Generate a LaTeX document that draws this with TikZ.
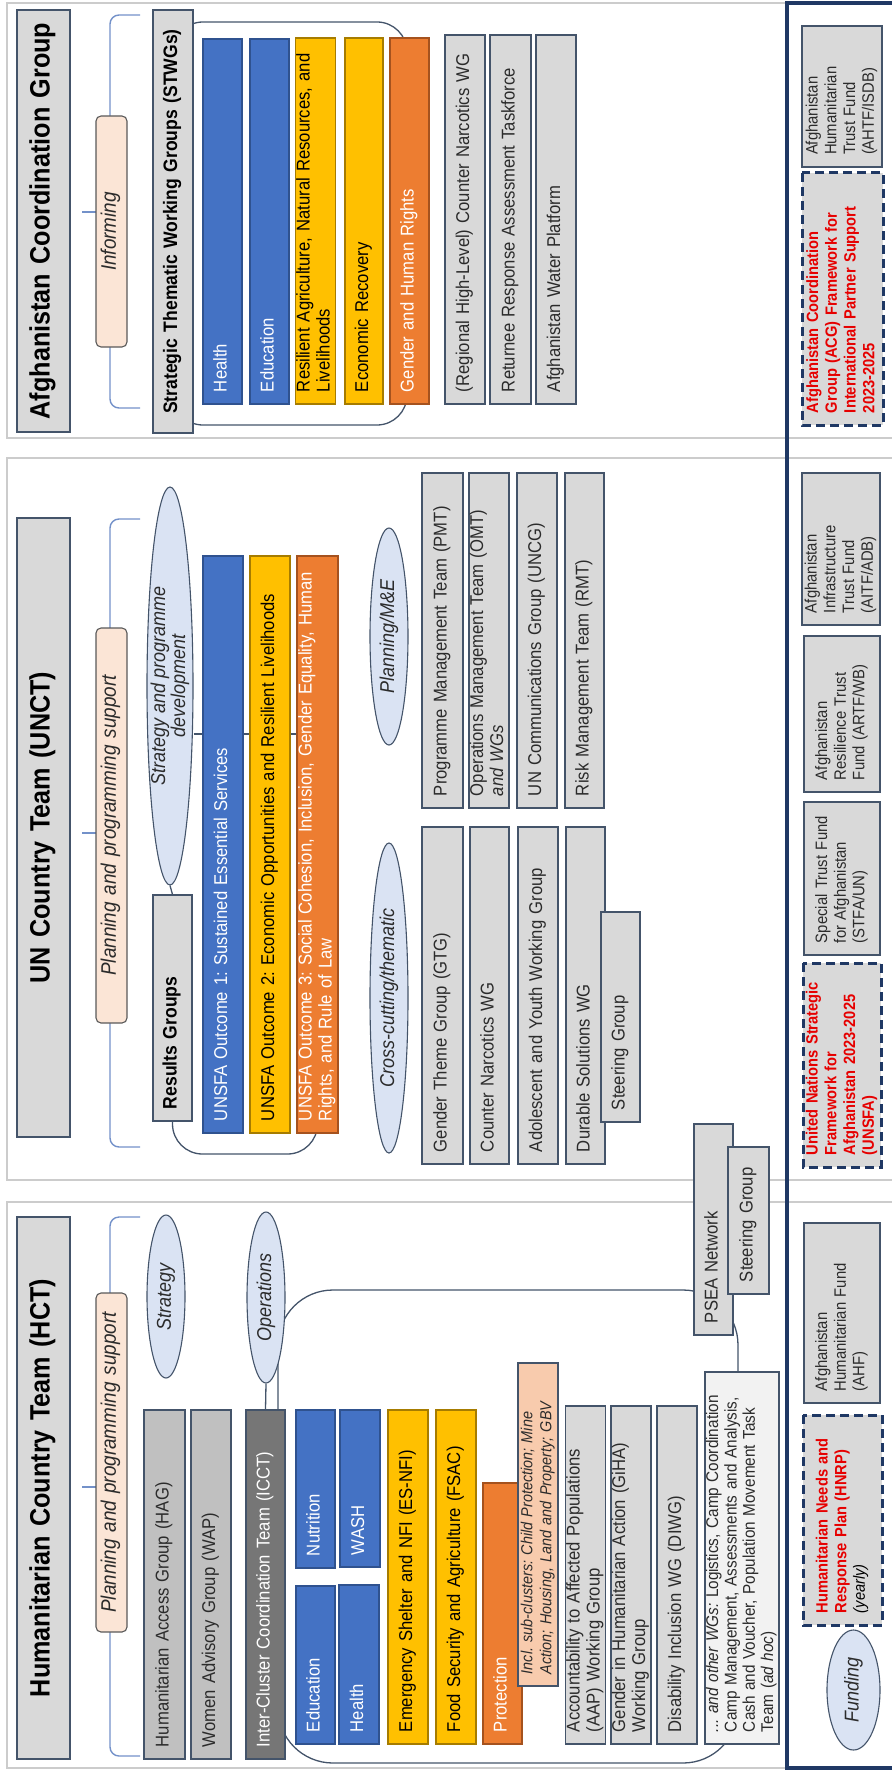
\documentclass[tikz,border=0pt]{standalone}
\usepackage{fontspec}
\setmainfont{Liberation Sans}[FakeStretch=0.9]
\usetikzlibrary{shapes.geometric}
\pgfdeclarelayer{bg}
\pgfsetlayers{bg,main}
\frenchspacing
\definecolor{gfill}{HTML}{D9D9D9}
\definecolor{gdark}{HTML}{C0C0C0}
\definecolor{icct}{HTML}{767676}
\definecolor{slate}{HTML}{44546A}
\definecolor{dgray}{HTML}{595959}
\definecolor{bfill}{HTML}{4472C4}
\definecolor{bline}{HTML}{2F528F}
\definecolor{yfill}{HTML}{FFC000}
\definecolor{yline}{HTML}{A67C00}
\definecolor{ofill}{HTML}{ED7D31}
\definecolor{oline}{HTML}{A5521E}
\definecolor{peach}{HTML}{FBE5D6}
\definecolor{peachb}{HTML}{F8CBAD}
\definecolor{efill}{HTML}{DAE3F3}
\definecolor{navy}{HTML}{1F3864}
\definecolor{panel}{HTML}{CCCCCC}
\definecolor{bracec}{HTML}{7391C9}
\definecolor{redtxt}{HTML}{E60000}
\definecolor{txt}{HTML}{2B2B2B}
\definecolor{lightf}{HTML}{F2F2F2}
\newcommand\fsz[2]{\fontsize{#1}{#2}\selectfont}
\newcommand\pb[7]{%
  \pgfmathsetmacro\pbw{#6-#4}%
  \pgfmathsetmacro\pbh{#5-#3}%
  \pgfmathsetmacro\pbt{#6-#4-24}%
  \pgfmathsetmacro\pbx{(#3+#5)/2}%
  \pgfmathsetmacro\pby{(#4+#6)/2}%
  \node[#2,rotate=90,minimum width=\pbw pt,minimum height=\pbh pt,text width=\pbt pt] (#1) at (\pbx,\pby) {\frenchspacing\begin{tabular}{@{}l@{}}#7\end{tabular}};}
\newcommand\pe[6]{%
  \pgfmathsetmacro\pbw{#5-#3}%
  \pgfmathsetmacro\pbh{#4-#2}%
  \pgfmathsetmacro\pbx{(#2+#4)/2}%
  \pgfmathsetmacro\pby{(#3+#5)/2}%
  \node[ell,rotate=90,minimum width=\pbw pt,minimum height=\pbh pt] (#1) at (\pbx,\pby) {#6};}
\tikzset{
  bx/.style={rectangle, draw=slate, line width=1.1pt, inner xsep=12pt, inner ysep=0pt, align=left, text=txt, font=\fsz{18.5}{20}},
  gry/.style={bx, fill=gfill},
  hagb/.style={bx, fill=gdark},
  blu/.style={bx, fill=bfill, draw=bline, text=white},
  yel/.style={bx, fill=yfill, draw=yline, text=black},
  org/.style={bx, fill=ofill, draw=oline, text=white},
  icb/.style={bx, fill=icct, draw=slate, text=white},
  sub/.style={bx, fill=peachb, draw=slate, font=\itshape\fsz{16}{19}},
  lgt/.style={bx, fill=lightf, draw=slate, font=\fsz{17}{18.3}},
  ttl/.style={bx, fill=gfill, align=center, text=black, font=\bfseries\fsz{28}{30}},
  bld/.style={bx, fill=gfill, text=black, font=\bfseries\fsz{19.5}{21}},
  bldc/.style={bld, align=center},
  plan/.style={bx, fill=peach, draw=dgray, rounded corners=5pt, align=center, font=\itshape\fsz{21}{22}},
  fnd/.style={bx, fill=gfill, font=\fsz{16.5}{18.7}},
  dsh/.style={bx, fill=gfill, draw=navy, line width=3pt, dash pattern=on 9pt off 5pt, text=redtxt, font=\bfseries\fsz{16.3}{18.7}},
  ell/.style={ellipse, draw=slate, line width=1.1pt, fill=efill, inner sep=-4pt, align=center, text=txt, font=\itshape\fsz{20}{20}},
  brc/.style={draw=bracec, line width=1.4pt},
  con/.style={draw=slate, line width=1.3pt},
  pnl/.style={draw=panel, line width=1.8pt},
}
\begin{document}
\begin{tikzpicture}[x=1pt,y=-1pt]
\useasboundingbox (0,0) rectangle (891,1771);
% ---------------- ACG ----------------
\pb{acgT}{ttl}{17}{10}{70}{432}{Afghanistan Coordination Group}
\pb{acgP}{plan}{96}{116}{127}{347}{Informing}
\pb{stwg}{bldc}{153}{10}{193}{433}{Strategic Thematic Working Groups (STWGs)}
\pb{aH}{blu}{203}{39}{242}{404}{Health}
\pb{aE}{blu}{250}{39}{289}{404}{Education}
\pb{aR}{yel}{296}{38}{335}{404}{Resilient Agriculture, Natural Resources, and\\Livelihoods}
\pb{aEc}{yel}{345}{38}{383}{404}{Economic Recovery}
\pb{aG}{org}{390}{38}{429}{404}{Gender and Human Rights}
\pb{aC}{gry}{445}{35}{485}{404}{(Regional High-Level) Counter Narcotics WG}
\pb{aRt}{gry}{490}{35}{531}{404}{Returnee Response Assessment Taskforce}
\pb{aW}{gry}{536}{35}{576}{404}{Afghanistan Water Platform}
% ---------------- UNCT ----------------
\pb{unT}{ttl}{17}{518}{70}{1137}{UN Country Team (UNCT)}
\pb{unP}{plan}{96}{628}{127}{1023}{Planning and programming support}
\pe{spd}{147}{487}{193}{885}{Strategy and programme\\development}
\pb{rg}{bld}{153}{895}{192}{1121}{Results Groups}
\pb{o1}{blu}{203}{556}{243}{1133}{UNSFA Outcome 1: Sustained Essential Services}
\pb{o2}{yel}{250}{556}{290}{1133}{UNSFA Outcome 2: Economic Opportunities and Resilient Livelihoods}
\pb{o3}{org}{297}{556}{338}{1133}{UNSFA Outcome 3: Social Cohesion, Inclusion, Gender Equality, Human\\Rights, and Rule of Law}
\pe{pme}{370}{528}{408}{745}{Planning/M\&E}
\pe{cct}{370}{843}{408}{1153}{Cross-cutting/thematic}
\pb{pmt}{gry}{422}{473}{463}{808}{Programme Management Team (PMT)}
\pb{omt}{gry}{469}{473}{509}{808}{Operations Management Team (OMT)\\\textit{and WGs}}
\pb{uncg}{gry}{517}{473}{557}{808}{UN Communications Group (UNCG)}
\pb{rmt}{gry}{565}{473}{604}{808}{Risk Management Team (RMT)}
\pb{gtg}{gry}{422}{827}{463}{1164}{Gender Theme Group (GTG)}
\pb{cnwg}{gry}{470}{827}{509}{1164}{Counter Narcotics WG}
\pb{ayw}{gry}{518}{827}{558}{1164}{Adolescent and Youth Working Group}
\pb{dsw}{gry}{566}{827}{605}{1164}{Durable Solutions WG}
\pb{dsg}{gry}{601}{912}{640}{1122}{Steering Group}
\pb{psea}{gry}{694}{1124}{733}{1335}{PSEA Network}
\pb{psg}{gry}{728}{1147}{769}{1294}{Steering Group}
% ---------------- HCT ----------------
\pb{hcT}{ttl}{17}{1217}{70}{1759}{Humanitarian Country Team (HCT)}
\pb{hcP}{plan}{96}{1293}{127}{1632}{Planning and programming support}
\pe{str}{147}{1215}{185}{1378}{Strategy}
\pe{ops}{247}{1212}{285}{1383}{Operations}
\pb{hag}{hagb}{144}{1410}{185}{1759}{Humanitarian Access Group (HAG)}
\pb{wap}{hagb}{191}{1410}{231}{1759}{Women Advisory Group (WAP)}
\pb{icct}{icb}{246}{1410}{285}{1759}{Inter-Cluster Coordination Team (ICCT)}
\pb{hEd}{blu}{296}{1586}{335}{1744}{Education}
\pb{hHe}{blu}{339}{1585}{379}{1744}{Health}
\pb{hNu}{blu}{296}{1410}{335}{1568}{Nutrition}
\pb{hWa}{blu}{340}{1410}{380}{1567}{WASH}
\pb{esn}{yel}{388}{1410}{428}{1744}{Emergency Shelter and NFI (ES-NFI)}
\pb{fsac}{yel}{436}{1410}{476}{1744}{Food Security and Agriculture (FSAC)}
\pb{prot}{org}{483}{1483}{522}{1744}{Protection}
\pb{subc}{sub}{518}{1363}{558}{1686}{Incl. sub-clusters: Child Protection; Mine\\Action; Housing, Land and Property; GBV}
\pb{aap}{gry}{566}{1406}{605}{1744}{Accountability to Affected Populations\\(AAP) Working Group}
\pb{giha}{gry}{611}{1406}{651}{1744}{Gender in Humanitarian Action (GiHA)\\Working Group}
\pb{diwg}{gry}{657}{1406}{697}{1744}{Disability Inclusion WG (DIWG)}
\pb{owg}{lgt}{705}{1372}{779}{1744}{\textit{... and other WGs:} Logistics, Camp Coordination\\Camp Management, Assessments and Analysis,\\Cash and Voucher, Population Movement Task\\Team (\textit{ad hoc})}
% ---------------- Funding ----------------
\pb{fAHTF}{fnd}{802}{26}{882}{167}{Afghanistan\\Humanitarian\\Trust Fund\\(AHTF/ISDB)}
\pb{fACG}{dsh}{802}{173}{883}{425}{Afghanistan Coordination\\Group (ACG) Framework for\\International Partner Support\\2023-2025}
\pb{fAITF}{fnd}{802}{473}{880}{625}{Afghanistan\\Infrastructure\\Trust Fund\\(AITF/ADB)}
\pb{fARTF}{fnd}{804}{636}{880}{792}{Afghanistan\\Resilience Trust\\Fund (ARTF/WB)}
\pb{fSTFA}{fnd}{804}{802}{880}{955}{Special Trust Fund\\for Afghanistan\\(STFA/UN)}
\pb{fUNSFA}{dsh}{803}{963}{881}{1167}{United Nations Strategic\\Framework for\\Afghanistan 2023-2025\\(UNSFA)}
\pb{fAHF}{fnd}{804}{1223}{880}{1403}{Afghanistan\\Humanitarian Fund\\(AHF)}
\pb{fHNRP}{dsh}{803}{1415}{882}{1625}{Humanitarian Needs and\\Response Plan (HNRP)\\{\color{black}\mdseries\itshape (yearly)}}
\pe{fund}{827}{1630}{880}{1750}{Funding}
% ---------------- background ----------------
\begin{pgfonlayer}{bg}
  \draw[pnl] (7,3) rectangle (905,438);
  \draw[pnl] (7,458) rectangle (905,1180);
  \draw[pnl] (7,1202) rectangle (905,1768);
  \draw[draw=navy, line width=3.5pt] (787,3) rectangle (905,1768);
  % braces
  \draw[brc, rounded corners=9pt] (140,15) -- (110,15) -- (110,408) -- (140,408);
  \draw[brc] (82,212) -- (110,212);
  \draw[brc, rounded corners=9pt] (140,519) -- (110,519) -- (110,1147) -- (140,1147);
  \draw[brc] (82,833) -- (110,833);
  \draw[brc, rounded corners=9pt] (140,1217) -- (110,1217) -- (110,1756) -- (140,1756);
  \draw[brc] (82,1487) -- (110,1487);
  % containers
  \draw[con, rounded corners=30pt] (173,22) rectangle (407,425);
  \coordinate (ub) at (0,1154);
  \draw[con, rounded corners=30pt] (rg.center) -- (rg.center |- ub) -- (o3.center |- ub) -- (o3.center);
  \draw[con, rounded corners=55pt] (278,1290) rectangle (738,1763);
  % connectors
  \coordinate (spdR) at (0,734);
  \draw[con] (spd.west) -- (rg.east);
  \draw[con] (spd.south |- spdR) -- (spdR -| o3.north);
  \draw[con] (ops.west) -- (icct.east);
\end{pgfonlayer}
\end{tikzpicture}
\end{document}
